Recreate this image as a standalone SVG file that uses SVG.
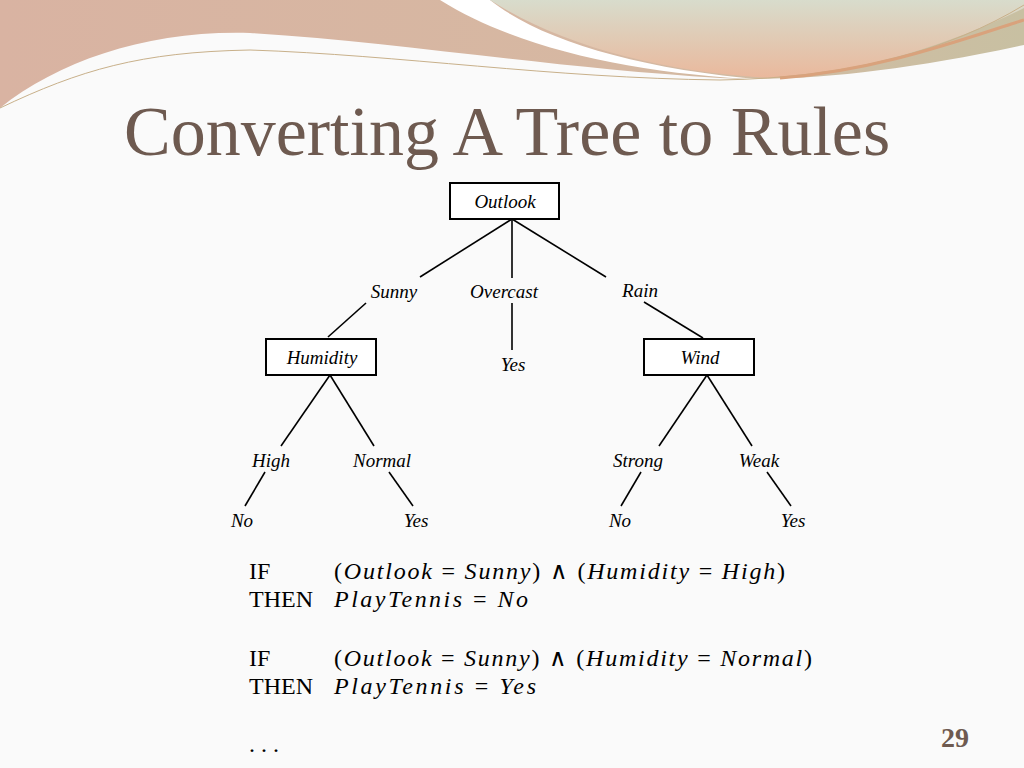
<svg xmlns="http://www.w3.org/2000/svg" width="1024" height="768" viewBox="0 0 1024 768">
<defs>
<linearGradient id="g1" x1="0" y1="0" x2="1" y2="0"><stop offset="0" stop-color="#d9b3a2"/><stop offset="0.6" stop-color="#d6b8a2"/><stop offset="1" stop-color="#c8c0a2"/></linearGradient>
<linearGradient id="g2" x1="0" y1="0" x2="0" y2="1"><stop offset="0" stop-color="#d8dccc"/><stop offset="1" stop-color="#eab89c"/></linearGradient>
</defs>
<style>
.n{fill:#fff;stroke:#000;stroke-width:2}
.c line{stroke:#000;stroke-width:1.6}
.t{font-family:"Liberation Serif",serif;font-style:italic;font-size:19px;text-anchor:middle}
.r{font-family:"Liberation Serif",serif;font-size:24px}
.i{font-style:italic}
</style>
<rect width="1024" height="768" fill="#fafafa"/>
<path d="M0,0 H1024 V45 C900,72 800,82 720,78 C550,68 400,42 250,33 C150,30 60,60 0,108 Z" fill="url(#g1)"/>
<path d="M440,0 C520,50 640,75 770,80 C640,70 540,40 490,0 Z" fill="#fff"/>
<path d="M490,0 C560,45 660,72 770,78 C870,72 960,40 1024,8 V0 Z" fill="url(#g2)"/>
<path d="M0,108 C80,70 140,52 250,50 C400,55 550,78 720,80 C850,78 950,50 1024,5" fill="none" stroke="#c8b08a" stroke-width="1"/>
<path d="M780,78 C880,70 960,40 1024,20" fill="none" stroke="#d9a27c" stroke-width="3"/>
<text x="124" y="155" font-family="Liberation Serif,serif" font-size="70" fill="#6e5a50">Converting A Tree to Rules</text>
<g class="c">
<line x1="512" y1="219" x2="420" y2="277"/><line x1="512" y1="219" x2="512" y2="278"/><line x1="512" y1="219" x2="606" y2="277"/>
<line x1="366" y1="303" x2="328" y2="337"/><line x1="512" y1="303" x2="512" y2="350"/><line x1="644" y1="302" x2="703" y2="338"/>
<line x1="330" y1="375" x2="281" y2="446"/><line x1="330" y1="375" x2="374" y2="446"/>
<line x1="265" y1="472" x2="245" y2="506"/><line x1="389" y1="472" x2="413" y2="506"/>
<line x1="707" y1="375" x2="659" y2="446"/><line x1="707" y1="375" x2="752" y2="446"/>
<line x1="641" y1="472" x2="621" y2="506"/><line x1="767" y1="472" x2="791" y2="506"/>
</g>
<g id="outlook"><rect class="n" x="450" y="183" width="109" height="36"/><text class="t" x="505" y="208">Outlook</text></g>
<g id="humidity"><rect class="n" x="266" y="339" width="110" height="36"/><text class="t" x="322" y="364">Humidity</text></g>
<g id="wind"><rect class="n" x="644" y="339" width="110" height="36"/><text class="t" x="700" y="364">Wind</text></g>
<g id="labels">
<text class="t" x="394" y="298">Sunny</text><text class="t" x="504" y="298">Overcast</text><text class="t" x="640" y="297">Rain</text>
<text class="t" x="513" y="371">Yes</text>
<text class="t" x="271" y="467">High</text><text class="t" x="382" y="467">Normal</text>
<text class="t" x="638" y="467">Strong</text><text class="t" x="759" y="467">Weak</text>
<text class="t" x="242" y="527">No</text><text class="t" x="416" y="527">Yes</text>
<text class="t" x="620" y="527">No</text><text class="t" x="793" y="527">Yes</text>
</g>
<g id="rules" class="r">
<text x="249" y="579">IF</text><text x="334" y="579" textLength="451" lengthAdjust="spacing">(<tspan class="i">Outlook</tspan> = <tspan class="i">Sunny</tspan>) ∧ (<tspan class="i">Humidity</tspan> = <tspan class="i">High</tspan>)</text>
<text x="249" y="607">THEN</text><text x="334" y="607" class="i" textLength="194" lengthAdjust="spacing">PlayTennis <tspan font-style="normal">=</tspan> No</text>
<text x="249" y="666">IF</text><text x="334" y="666" textLength="478" lengthAdjust="spacing">(<tspan class="i">Outlook</tspan> = <tspan class="i">Sunny</tspan>) ∧ (<tspan class="i">Humidity</tspan> = <tspan class="i">Normal</tspan>)</text>
<text x="249" y="694">THEN</text><text x="334" y="694" class="i" textLength="202" lengthAdjust="spacing">PlayTennis <tspan font-style="normal">=</tspan> Yes</text>
<text x="249" y="752">. . .</text>
</g>
<text x="955" y="747" font-family="Liberation Serif,serif" font-size="28" font-weight="bold" fill="#6e5a50" text-anchor="middle">29</text>
</svg>
